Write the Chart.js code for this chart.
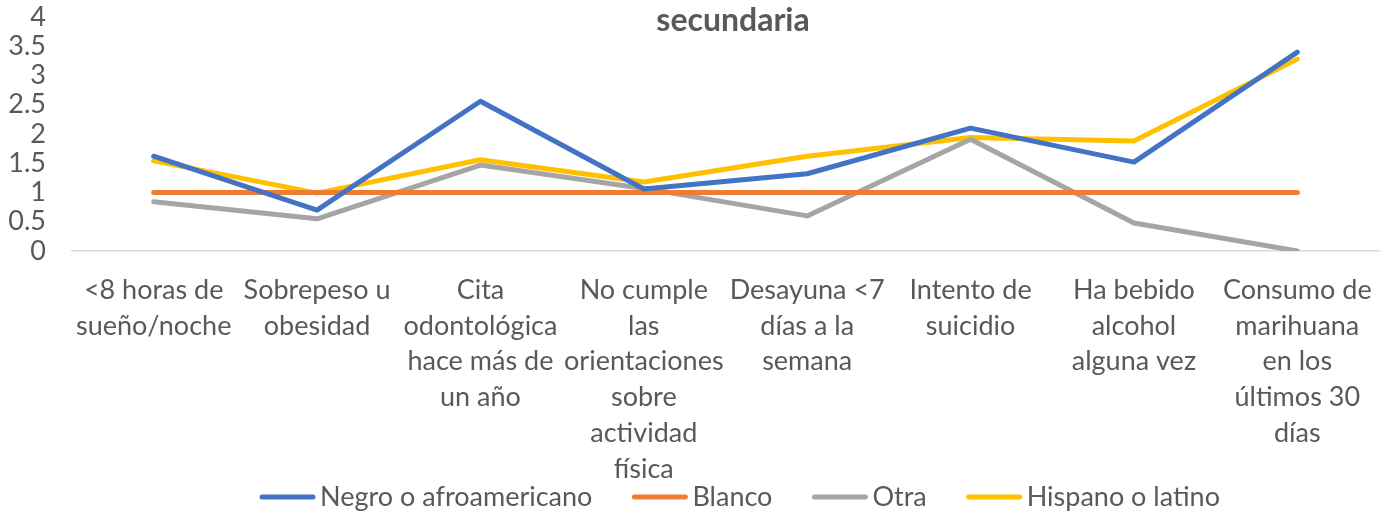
<!DOCTYPE html>
<html>
<head>
<meta charset="utf-8">
<script src="https://cdn.jsdelivr.net/npm/chart.js@4.4.1/dist/chart.umd.min.js"></script>
<style>
    html, body { margin: 0; padding: 0; background: #fff; }
    #wrap { width: 1392px; height: 515px; }
</style>
</head>
<body>
<div id="wrap"><canvas id="chart"></canvas></div>
<script>
const chartTitle = "secundaria";

const categories = [
    ["<8 horas de", "sueño/noche"],
    ["Sobrepeso u", "obesidad"],
    ["Cita", "odontológica", "hace más de", "un año"],
    ["No cumple", "las", "orientaciones", "sobre", "actividad", "física"],
    ["Desayuna <7", "días a la", "semana"],
    ["Intento de", "suicidio"],
    ["Ha bebido", "alcohol", "alguna vez"],
    ["Consumo de", "marihuana", "en los", "últimos 30", "días"]
];

const negro = [1.62, 0.70, 2.56, 1.06, 1.32, 2.10, 1.52, 3.40];
const blanco = [1, 1, 1, 1, 1, 1, 1, 1];
const otra = [0.84, 0.55, 1.47, 1.07, 0.60, 1.91, 0.48, 0.0];
const hispano = [1.54, 0.99, 1.56, 1.18, 1.62, 1.94, 1.88, 3.28];

const yTicks = [0, 0.5, 1, 1.5, 2, 2.5, 3, 3.5, 4];

const font = "Lato, 'Open Sans', sans-serif";
const textColor = "#595959";

function line(label, data, color) {
    return {
        label: label,
        data: data,
        borderColor: color,
        backgroundColor: color,
        borderWidth: 5,
        pointRadius: 0,
        tension: 0,
        borderCapStyle: 'round',
        borderJoinStyle: 'round'
    };
}

// title sits inside the plot area like in the original
const titlePlugin = {
    id: 'insideTitle',
    afterDraw(chart) {
        const ctx = chart.ctx;
        ctx.save();
        ctx.font = "bold 32px " + font;
        ctx.fillStyle = textColor;
        ctx.textAlign = 'center';
        ctx.textBaseline = 'middle';
        ctx.fillText(chartTitle, 733, 21);
        ctx.restore();
    }
};

// legend drawn by hand: short thick bars, tight gap to the text
const legendPlugin = {
    id: 'bottomLegend',
    afterDraw(chart) {
        const ctx = chart.ctx;
        const sets = chart.data.datasets;
        const barW = 55, gapText = 5, gapItem = 40;
        ctx.save();
        ctx.font = "27px " + font;
        ctx.textBaseline = 'middle';
        const widths = sets.map(ds => barW + gapText + ctx.measureText(ds.label).width);
        const total = widths.reduce((a, b) => a + b, 0) + gapItem * (sets.length - 1);
        let x = 740 - total / 2;
        const y = 497;
        sets.forEach((ds, i) => {
            ctx.strokeStyle = ds.borderColor;
            ctx.lineWidth = 5;
            ctx.lineCap = 'round';
            ctx.beginPath();
            ctx.moveTo(x + 2, y);
            ctx.lineTo(x + barW - 2, y);
            ctx.stroke();
            ctx.fillStyle = textColor;
            ctx.fillText(ds.label, x + barW + gapText, y);
            x += widths[i] + gapItem;
        });
        ctx.restore();
    }
};

new Chart(document.getElementById('chart'), {
    type: 'line',
    data: {
        labels: categories,
        datasets: [
            line('Negro o afroamericano', negro, '#4472C4'),
            line('Blanco', blanco, '#ED7D31'),
            line('Otra', otra, '#A5A5A5'),
            line('Hispano o latino', hispano, '#FFC000')
        ]
    },
    plugins: [titlePlugin, legendPlugin],
    options: {
        responsive: true,
        maintainAspectRatio: false,
        animation: false,
        layout: {
            padding: { top: 17, right: 13, left: 0, bottom: 34 }
        },
        plugins: {
            title: { display: false },
            tooltip: { enabled: false },
            legend: { display: false }
        },
        scales: {
            x: {
                offset: true,
                grid: { display: false },
                border: { display: true, color: '#D9D9D9', width: 1.5 },
                ticks: {
                    color: textColor,
                    font: { family: font, size: 27, lineHeight: 1.33 },
                    maxRotation: 0,
                    autoSkip: false,
                    padding: 13
                },
                afterFit: s => { s.height = 230; }
            },
            y: {
                min: 0,
                max: 4,
                grid: { display: false },
                border: { display: false },
                afterBuildTicks: s => { s.ticks = yTicks.map(v => ({ value: v })); },
                ticks: {
                    color: textColor,
                    font: { family: font, size: 27 },
                    padding: 18,
                    autoSkip: false,
                    callback: v => String(v)
                },
                // top of the axis lines up with the layout padding, the "4" may overhang
                afterFit: s => { s.width = 72; s.paddingTop = 0; }
            }
        }
    }
});
</script>
</body>
</html>
